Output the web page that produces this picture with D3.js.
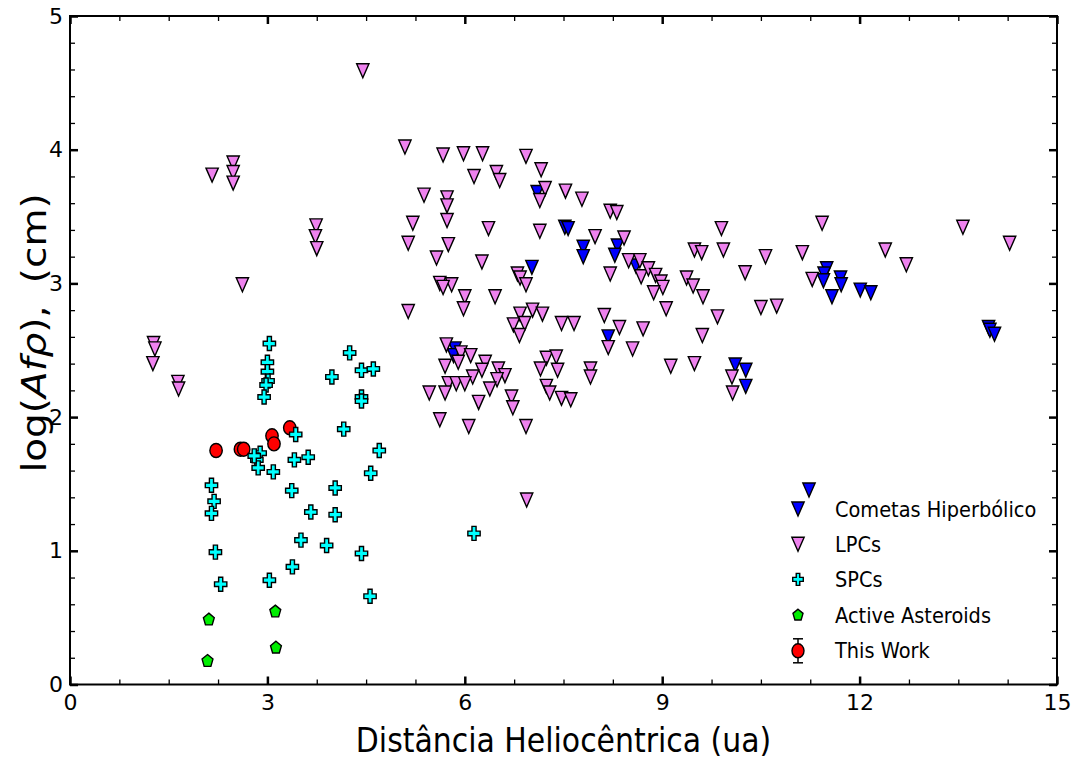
<!DOCTYPE html>
<html>
<head>
<meta charset="utf-8">
<script src="https://cdn.jsdelivr.net/npm/d3@7"></script>
<style>
  html, body { margin: 0; padding: 0; background: #fff; }
  svg { display: block; font-family: "DejaVu Sans", sans-serif; }
</style>
</head>
<body>
<svg id="chart" width="1078" height="761"></svg>
<script>
// Heliocentric distance (ua) and log(Afρ) for each population
const hypX = [7.10, 7.52, 7.57, 7.80, 7.80, 8.32, 8.28, 7.02, 8.60, 8.18, 5.85, 5.83, 10.11, 10.27, 10.27,
  11.50, 11.46, 11.45, 11.58, 11.71, 11.72, 12.01, 12.17, 13.96, 13.98, 14.05];
const hypY = [3.68, 3.42, 3.41, 3.27, 3.20, 3.28, 3.21, 3.12, 3.13, 2.60, 2.51, 2.46, 2.39, 2.35, 2.23,
  3.11, 3.07, 3.02, 2.90, 3.04, 2.99, 2.95, 2.93, 2.67, 2.65, 2.62];

const lpcX = [1.27, 1.29, 1.26, 1.64, 1.65, 2.16, 2.48, 2.48, 2.48, 2.62, 3.74, 3.73, 3.75, 4.45, 5.09, 5.21, 5.14, 5.14,
  5.67, 5.98, 6.27, 6.93, 7.16, 6.14, 6.48, 6.53, 5.38, 5.73, 5.73, 5.73, 7.22, 7.14, 7.53, 7.78, 8.21, 8.31,
  5.75, 6.36, 7.14, 7.98, 8.42, 9.90, 9.49, 9.60, 9.93, 5.57, 6.26, 6.80, 6.84, 6.93, 8.21, 8.49, 8.66, 8.68,
  8.79, 8.90, 8.98, 9.01, 8.87, 9.37, 9.47, 9.62, 9.06, 9.84, 5.62, 5.80, 5.67, 6.00, 5.98, 6.46, 6.84, 7.03,
  7.18, 6.74, 6.91, 6.83, 7.47, 7.66, 8.12, 8.35, 8.71, 9.61, 8.18, 8.55,
  5.72, 5.94, 6.09, 5.90, 5.70, 6.31, 6.26, 6.51, 6.61, 6.49, 6.12, 5.75, 5.87, 6.00, 5.70, 5.46, 6.38, 6.21,
  6.71, 6.73, 5.62, 6.06, 6.93, 7.24, 7.39, 7.15, 7.41, 7.24, 7.29, 7.47, 7.61, 7.91, 7.91, 6.94, 9.13, 9.49,
  10.06, 10.07, 10.26, 10.57, 11.13, 11.43, 11.28, 12.39, 12.71, 13.57, 14.28, 10.50, 10.74];
const lpcY = [2.55, 2.51, 2.40, 2.26, 2.21, 3.81, 3.90, 3.83, 3.75, 2.99, 3.43, 3.35, 3.26, 4.59, 4.02, 3.45, 3.30, 2.79,
  3.96, 3.97, 3.97, 3.95, 3.85, 3.80, 3.83, 3.77, 3.66, 3.64, 3.58, 3.47, 3.71, 3.62, 3.69, 3.63, 3.54, 3.53,
  3.29, 3.41, 3.39, 3.35, 3.34, 3.41, 3.25, 3.23, 3.25, 3.19, 3.16, 3.07, 3.04, 2.99, 3.07, 3.17, 3.17, 3.05,
  3.11, 3.06, 3.01, 2.97, 2.93, 3.04, 2.98, 2.90, 2.81, 2.75, 3.00, 2.99, 2.97, 2.90, 2.81, 2.90, 2.77, 2.80,
  2.77, 2.69, 2.70, 2.61, 2.70, 2.70, 2.76, 2.67, 2.66, 2.61, 2.52, 2.51,
  2.54, 2.48, 2.46, 2.41, 2.38, 2.41, 2.35, 2.36, 2.31, 2.28, 2.30, 2.25, 2.25, 2.25, 2.18, 2.18, 2.21, 2.11,
  2.15, 2.07, 1.98, 1.93, 1.93, 2.44, 2.45, 2.36, 2.35, 2.23, 2.18, 2.14, 2.13, 2.36, 2.30, 1.38, 2.38, 2.40,
  2.30, 2.18, 3.08, 3.20, 3.23, 3.45, 3.03, 3.25, 3.14, 3.42, 3.30, 2.82, 2.83];

const spcX = [3.03, 3.00, 3.00, 3.01, 2.98, 2.95, 4.25, 3.98, 4.43, 4.61, 4.43, 4.43, 4.16, 3.43, 4.70, 2.89, 2.84,
  2.86, 2.80, 3.09, 3.41, 3.62, 2.15, 2.19, 2.15, 2.21, 2.29, 3.03, 3.37, 3.66, 3.51, 3.38, 4.03, 4.03, 3.90,
  4.43, 4.56, 4.57, 6.14];
const spcY = [2.55, 2.41, 2.34, 2.27, 2.24, 2.15, 2.48, 2.30, 2.35, 2.36, 2.15, 2.12, 1.91, 1.87, 1.75, 1.73, 1.68,
  1.62, 1.71, 1.59, 1.68, 1.70, 1.49, 1.37, 1.28, 0.99, 0.75, 0.78, 1.45, 1.29, 1.08, 0.88, 1.47, 1.27, 1.04,
  0.98, 0.66, 1.58, 1.13];

const astX = [2.11, 2.09, 3.12, 3.13];
const astY = [0.49, 0.18, 0.55, 0.28];

const workX = [2.22, 2.59, 2.64, 3.07, 3.10, 3.34];
const workY = [1.75, 1.76, 1.76, 1.86, 1.80, 1.92];
const workErr = [0.03, 0.03, 0.03, 0.03, 0.03, 0.03];

const xMajor = [0, 3, 6, 9, 12, 15];
const yMajor = [0, 1, 2, 3, 4, 5];
const legendLabels = ["Cometas Hiperbólico", "LPCs", "SPCs", "Active Asteroids", "This Work"];

const svg = d3.select("#chart");
const W = 1078, H = 761;
svg.append("rect").attr("width", W).attr("height", H).attr("fill", "#fff");

const x = d3.scaleLinear().domain([0, 15]).range([70, 1057]);
const y = d3.scaleLinear().domain([0, 5]).range([684.5, 16]);

// marker shapes (slightly narrower than tall)
const SX = 0.88;
function triDown(s) {
  const w = s * SX / 2, h = s / 2;
  return `M0,${h}L${-w},${-h}L${w},${-h}Z`;
}
function plusFilled(s) {
  const a = s / 2, t = s / 6;
  const ax = a * SX, tx = t * SX;
  return `M${-tx},${-a}H${tx}V${-t}H${ax}V${t}H${tx}V${a}H${-tx}V${t}H${-ax}V${-t}H${-tx}Z`;
}
function pentagon(s) {
  const r = s / 2;
  const pts = d3.range(5).map(i => {
    const ang = -Math.PI / 2 + i * 2 * Math.PI / 5;
    return [r * Math.cos(ang) * SX, r * Math.sin(ang) + r * 0.1];
  });
  return "M" + pts.map(p => p.join(",")).join("L") + "Z";
}

const plot = svg.append("g");

function scatter(xs, ys, pathFn, size, fill) {
  plot.append("g").selectAll("path")
    .data(xs.map((v, i) => [v, ys[i]]))
    .join("path")
    .attr("transform", d => `translate(${x(d[0])},${y(d[1])})`)
    .attr("d", pathFn(size))
    .attr("fill", fill)
    .attr("stroke", "#000")
    .attr("stroke-width", 1.4)
    .attr("stroke-linejoin", "miter");
}

scatter(hypX, hypY, triDown, 14, "#0000ff");
scatter(lpcX, lpcY, triDown, 14, "#ee82ee");

// This Work: error bars + circles
const work = workX.map((v, i) => ({ x: v, y: workY[i], e: workErr[i] }));
const wg = plot.append("g");
wg.selectAll("line.err").data(work).join("line")
  .attr("x1", d => x(d.x)).attr("x2", d => x(d.x))
  .attr("y1", d => y(d.y - d.e)).attr("y2", d => y(d.y + d.e))
  .attr("stroke", "#000").attr("stroke-width", 1.5);
wg.selectAll("ellipse").data(work).join("ellipse")
  .attr("cx", d => x(d.x)).attr("cy", d => y(d.y))
  .attr("rx", 6.2).attr("ry", 7)
  .attr("fill", "#ff0000").attr("stroke", "#000").attr("stroke-width", 1.4);

scatter(spcX, spcY, plusFilled, 14, "#00ffff");
scatter(astX, astY, pentagon, 13, "#00ee00");

// axes with inward ticks on all four sides
const xMinor = d3.range(0, 15.001, 0.75).filter(v => Math.abs(v / 3 - Math.round(v / 3)) > 1e-6);
const yMinor = d3.range(0, 5.001, 0.2).filter(v => Math.abs(v - Math.round(v)) > 1e-6);
const fmt = d3.format("d");

function styleAxis(g, major) {
  g.select(".domain").remove();
  g.selectAll(".tick line").attr("stroke", "#000").attr("stroke-width", major ? 2.5 : 1.3);
}

// bottom
svg.append("g").attr("transform", `translate(0,${y(0)})`)
  .call(d3.axisBottom(x).tickValues(xMinor).tickSize(-5).tickFormat(""))
  .call(g => styleAxis(g, false));
svg.append("g").attr("transform", `translate(0,${y(0)})`)
  .call(d3.axisBottom(x).tickValues(xMajor).tickSize(-8).tickPadding(10).tickFormat(fmt))
  .call(g => styleAxis(g, true))
  .call(g => g.selectAll("text").attr("font-size", 22).attr("fill", "#000").attr("font-family", "DejaVu Sans"));
// top
svg.append("g").attr("transform", `translate(0,${y(5)})`)
  .call(d3.axisTop(x).tickValues(xMinor).tickSize(-5).tickFormat(""))
  .call(g => styleAxis(g, false));
svg.append("g").attr("transform", `translate(0,${y(5)})`)
  .call(d3.axisTop(x).tickValues(xMajor).tickSize(-8).tickFormat(""))
  .call(g => styleAxis(g, true));
// left
svg.append("g").attr("transform", `translate(${x(0)},0)`)
  .call(d3.axisLeft(y).tickValues(yMinor).tickSize(-5).tickFormat(""))
  .call(g => styleAxis(g, false));
svg.append("g").attr("transform", `translate(${x(0)},0)`)
  .call(d3.axisLeft(y).tickValues(yMajor).tickSize(-8).tickPadding(7).tickFormat(fmt))
  .call(g => styleAxis(g, true))
  .call(g => g.selectAll("text").attr("font-size", 22).attr("fill", "#000").attr("font-family", "DejaVu Sans"));
// right
svg.append("g").attr("transform", `translate(${x(15)},0)`)
  .call(d3.axisRight(y).tickValues(yMinor).tickSize(-5).tickFormat(""))
  .call(g => styleAxis(g, false));
svg.append("g").attr("transform", `translate(${x(15)},0)`)
  .call(d3.axisRight(y).tickValues(yMajor).tickSize(-8).tickFormat(""))
  .call(g => styleAxis(g, true));

// frame
svg.append("rect")
  .attr("x", x(0)).attr("y", y(5))
  .attr("width", x(15) - x(0)).attr("height", y(0) - y(5))
  .attr("fill", "none").attr("stroke", "#000").attr("stroke-width", 2);

// axis titles
svg.append("text")
  .attr("transform", `translate(${(x(0) + x(15)) / 2},752) scale(${SX},1)`)
  .attr("text-anchor", "middle")
  .attr("font-size", 34)
  .text("Distância Heliocêntrica (ua)");

const yl = svg.append("text")
  .attr("transform", `translate(46,333) scale(${SX},1) rotate(-90)`)
  .attr("text-anchor", "middle")
  .attr("font-size", 39);
yl.append("tspan").text("log(");
yl.append("tspan").attr("font-style", "italic").text("Afρ");
yl.append("tspan").text("),");
yl.append("tspan").attr("dx", 22).text("(cm)");

// legend
const lg = svg.append("g");
const lx = 798, ly0 = 509, ldy = 35.2;
lg.append("path").attr("transform", `translate(${lx},${ly0})`).attr("d", triDown(14))
  .attr("fill", "#0000ff").attr("stroke", "#000").attr("stroke-width", 1.4);
lg.append("path").attr("transform", `translate(${lx + 11},${ly0 - 19})`).attr("d", triDown(14))
  .attr("fill", "#0000ff").attr("stroke", "#000").attr("stroke-width", 1.4);
lg.append("path").attr("transform", `translate(${lx},${ly0 + ldy})`).attr("d", triDown(14))
  .attr("fill", "#ee82ee").attr("stroke", "#000").attr("stroke-width", 1.4);
lg.append("path").attr("transform", `translate(${lx},${ly0 + 2 * ldy})`).attr("d", plusFilled(12))
  .attr("fill", "#00ffff").attr("stroke", "#000").attr("stroke-width", 1.4);
lg.append("path").attr("transform", `translate(${lx},${ly0 + 3 * ldy})`).attr("d", pentagon(12))
  .attr("fill", "#00ee00").attr("stroke", "#000").attr("stroke-width", 1.4);
const ey = ly0 + 4 * ldy;
lg.append("line").attr("x1", lx).attr("x2", lx).attr("y1", ey - 11).attr("y2", ey + 13)
  .attr("stroke", "#000").attr("stroke-width", 1.5);
lg.append("line").attr("x1", lx - 5).attr("x2", lx + 5).attr("y1", ey - 11).attr("y2", ey - 11)
  .attr("stroke", "#000").attr("stroke-width", 1.5);
lg.append("line").attr("x1", lx - 5).attr("x2", lx + 5).attr("y1", ey + 13).attr("y2", ey + 13)
  .attr("stroke", "#000").attr("stroke-width", 1.5);
lg.append("ellipse").attr("cx", lx).attr("cy", ey + 1).attr("rx", 6).attr("ry", 7)
  .attr("fill", "#ff0000").attr("stroke", "#000").attr("stroke-width", 1.4);

lg.selectAll("text.lbl").data(legendLabels).join("text")
  .attr("class", "lbl")
  .attr("transform", (d, i) => `translate(835,${517 + i * ldy}) scale(${SX},1)`)
  .attr("font-size", 22)
  .text(d => d);
</script>
</body>
</html>
